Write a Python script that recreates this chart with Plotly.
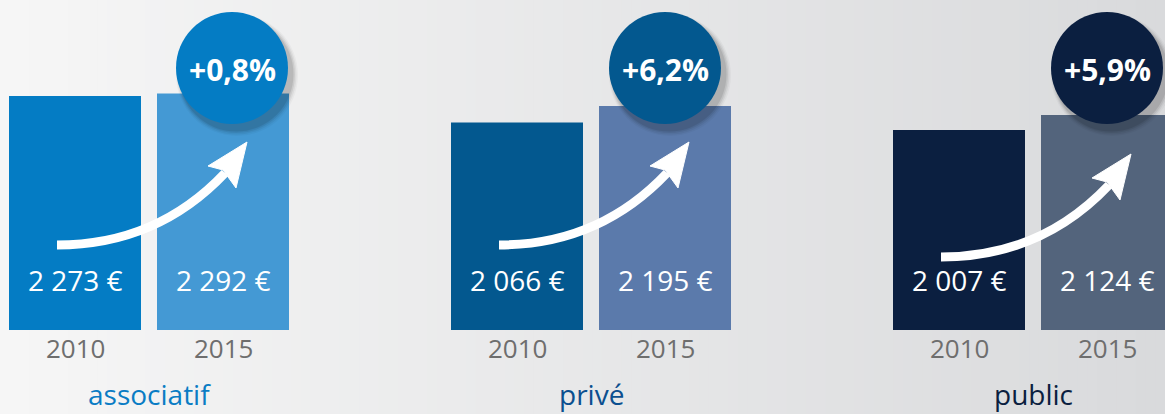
import plotly.graph_objects as go

W, H = 1165, 414

# ---- data ----
categories = ["associatif", "privé", "public"]
years = ["2010", "2015"]
salaires_2010 = [2273, 2066, 2007]
salaires_2015 = [2292, 2195, 2124]
evolution = ["+0,8%", "+6,2%", "+5,9%"]

# ---- styles ----
colors_2010 = ["#047cc4", "#03588f", "#0b1f40"]
colors_2015 = ["#4499d4", "#5b7aab", "#53647c"]
label_colors = ["#0a7cc4", "#0b4f8f", "#0b1f40"]
YEAR_COLOR = "#6e6e6e"
FONT = "Open Sans"

# layout constants (pixels)
G0, GSTEP = 149, 442          # centre of first group, distance between groups
BAR_SHIFT = 74                # bar centre offset from group centre
BASE_PX = 330                 # pixel row of the value-axis origin
Y_MIN, Y_MAX = 442, 3024      # value range shown

def fmt(v):
    return f"{v:,}".replace(",", " ") + " €"

def px(x, y):
    return x / W, 1 - y / H

fig = go.Figure()
fig.add_trace(go.Bar(name="2010", x=categories, y=salaires_2010,
                     marker=dict(color=colors_2010, line=dict(width=0)),
                     hoverinfo="x+y"))
fig.add_trace(go.Bar(name="2015", x=categories, y=salaires_2015,
                     marker=dict(color=colors_2015, line=dict(width=0)),
                     hoverinfo="x+y"))

shapes = []
# background gradient
N = 120
c0 = (246, 246, 246)
c1 = (217, 218, 220)
for k in range(N):
    t = k / (N - 1)
    c = tuple(round(a + (b - a) * t) for a, b in zip(c0, c1))
    shapes.append(dict(type="rect", xref="paper", yref="paper",
                       x0=k / N, x1=(k + 1) / N + 0.002, y0=0, y1=1,
                       fillcolor=f"rgb{c}", line=dict(width=0), layer="below"))

annotations = []
circle_dx = [9, 0, 0]
arrow_dy = [0, 0, 12]
R = 56
CY = 68
for i, cat in enumerate(categories):
    gc = G0 + i * GSTEP
    # arrow
    dy = arrow_dy[i]
    sx, sy = px(gc - 92, 245 + dy)
    qx, qy = px(gc + 8, 245 + dy)
    ex, ey = px(gc + 76, 173 + dy)
    shapes.append(dict(type="path", xref="paper", yref="paper",
                       path=f"M {sx},{sy} Q {qx},{qy} {ex},{ey}",
                       line=dict(color="white", width=9), layer="above"))
    tx, ty = px(gc + 98, 142 + dy)
    lx, ly = px(gc + 59, 166 + dy)
    nx, ny = px(gc + 74, 170 + dy)
    rx, ry = px(gc + 87, 188 + dy)
    shapes.append(dict(type="path", xref="paper", yref="paper",
                       path=f"M {tx},{ty} L {lx},{ly} L {nx},{ny} L {rx},{ry} Z",
                       fillcolor="white", line=dict(color="white", width=1),
                       layer="above"))
    # circle shadow + circle
    cx = gc + BAR_SHIFT + circle_dx[i]
    for s, a in [(12, 0.03), (9, 0.05), (6, 0.07), (3, 0.09)]:
        x0, y0 = px(cx - R + 4 - s / 3, CY - R + 6 - s / 3)
        x1, y1 = px(cx + R + 4 + s / 2, CY + R + 6 + s / 2)
        shapes.append(dict(type="circle", xref="paper", yref="paper",
                           x0=x0, x1=x1, y0=y1, y1=y0,
                           fillcolor=f"rgba(0,0,0,{a})", line=dict(width=0),
                           layer="above"))
    x0, y0 = px(cx - R, CY - R)
    x1, y1 = px(cx + R, CY + R)
    shapes.append(dict(type="circle", xref="paper", yref="paper",
                       x0=x0, x1=x1, y0=y1, y1=y0,
                       fillcolor=colors_2010[i], line=dict(width=0), layer="above"))
    annotations.append(dict(x=cx / W, y=1 - (CY + 2) / H, xref="paper", yref="paper",
                            text=f"<b>{evolution[i]}</b>", showarrow=False,
                            font=dict(family=FONT, size=30, color="white"),
                            xanchor="center", yanchor="middle"))
    # values and years
    for j, (vals, yr) in enumerate([(salaires_2010, years[0]), (salaires_2015, years[1])]):
        shift = -BAR_SHIFT if j == 0 else BAR_SHIFT
        annotations.append(dict(x=cat, xref="x", xshift=shift, y=1 - 280 / H, yref="paper",
                                text=fmt(vals[i]), showarrow=False,
                                font=dict(family=FONT, size=28, color="white"),
                                xanchor="center", yanchor="middle"))
        annotations.append(dict(x=cat, xref="x", xshift=shift, y=1 - 348 / H, yref="paper",
                                text=yr, showarrow=False,
                                font=dict(family=FONT, size=26, color=YEAR_COLOR),
                                xanchor="center", yanchor="middle"))
    annotations.append(dict(x=cat, xref="x", y=1 - 394 / H, yref="paper",
                            text=cat, showarrow=False,
                            font=dict(family=FONT, size=28, color=label_colors[i]),
                            xanchor="center", yanchor="middle"))

fig.update_layout(
    width=W, height=H,
    margin=dict(l=0, r=0, t=0, b=0),
    barmode="group",
    bargap=146 / 442,
    bargroupgap=16 / 148,
    showlegend=False,
    paper_bgcolor="#ebebec",
    plot_bgcolor="rgba(0,0,0,0)",
    xaxis=dict(range=[-G0 / GSTEP, (W - G0) / GSTEP], visible=False, fixedrange=True),
    yaxis=dict(range=[Y_MIN, Y_MAX], domain=[(H - BASE_PX) / H, 1], visible=False,
               fixedrange=True),
    shapes=shapes,
    annotations=annotations,
)

fig.write_html("out.html", config={"displayModeBar": False},
               post_script="document.body.style.margin='0';document.body.style.overflow='hidden';")
